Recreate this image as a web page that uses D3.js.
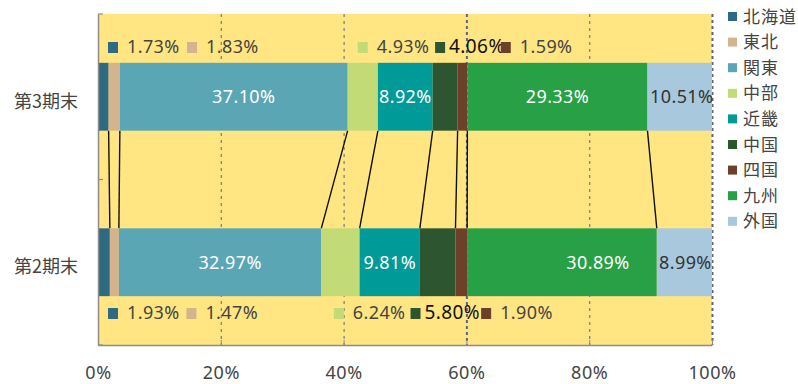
<!DOCTYPE html>
<html>
<head>
<meta charset="utf-8">
<script src="https://cdn.jsdelivr.net/npm/d3@7"></script>
<style>
  html, body { margin: 0; padding: 0; background: #ffffff; }
  svg { display: block; }
</style>
</head>
<body>
<svg id="chart" width="798" height="384"></svg>
<script>
// 地域別構成比（期末）
const periods = ["第3期末", "第2期末"];
const regions = ["北海道", "東北", "関東", "中部", "近畿", "中国", "四国", "九州", "外国"];
const regionColors = ["#2e6a82", "#d4b48e", "#5ba6b4", "#c3db77", "#009a98", "#2d5630", "#6d4129", "#28a045", "#a8c8dd"];
const values3 = [1.73, 1.83, 37.10, 4.93, 8.92, 4.06, 1.59, 29.33, 10.51];
const values2 = [1.93, 1.47, 32.97, 6.24, 9.81, 5.80, 1.90, 30.89, 8.99];
const xTicks = [0, 20, 40, 60, 80, 100];

// 小さい区分は棒の外側に凡例マーク付きで表示
const calloutRegions = ["北海道", "東北", "中部", "中国", "四国"];
// 外側ラベルの位置（％軸上の位置）
const calloutAt = {
  "第3期末": [1.63, 14.5, 42.3, 54.9, 65.6],
  "第2期末": [1.63, 14.4, 38.4, 50.9, 62.4]
};
// 棒の内側ラベルの横ずれ（px）
const insideShift = {
  "第3期末": { "関東": 10, "近畿": 0, "九州": 0, "外国": 2 },
  "第2期末": { "関東": 10, "近畿": 0, "九州": 36, "外国": 1 }
};

const valuesByPeriod = { "第3期末": values3, "第2期末": values2 };

const svg = d3.select("#chart");
const numFont = "'Noto Sans', Roboto, sans-serif";
const cjkFont = "'Noto Sans CJK JP', 'Noto Sans', sans-serif";

const x = d3.scaleLinear().domain([0, 100]).range([98, 712]);
const y = d3.scaleBand().domain(periods).range([14, 345]).paddingInner(0.59).paddingOuter(0.295);
const color = d3.scaleOrdinal().domain(regions).range(regionColors);

// 積み上げ位置
const stacks = {};
periods.forEach(p => {
  let c = 0;
  stacks[p] = valuesByPeriod[p].map((v, i) => {
    const s = { period: p, region: regions[i], value: v, x0: c, x1: c + v };
    c += v;
    return s;
  });
});

// プロット領域の背景
svg.append("rect")
  .attr("x", x(0)).attr("y", 14)
  .attr("width", x(100) - x(0)).attr("height", 345 - 14)
  .attr("fill", "#ffe682");

// 目盛線
svg.append("g").selectAll("line")
  .data(xTicks.filter(t => t > 0))
  .join("line")
  .attr("x1", d => x(d) + 0.5).attr("x2", d => x(d) + 0.5)
  .attr("y1", 14).attr("y2", 345)
  .attr("stroke", d => (d === 60 || d === 100) ? "#5f6677" : "#7a7a80")
  .attr("stroke-width", d => (d === 60 || d === 100) ? 2 : 1.2)
  .attr("stroke-dasharray", d => (d === 60 || d === 100) ? "3,3" : "3,4");

// 区分線（期間をつなぐ線）
const linkData = stacks["第3期末"].slice(0, -1).map((s, i) => ({
  a: s.x1, b: stacks["第2期末"][i].x1
}));
svg.append("g").selectAll("line")
  .data(linkData)
  .join("line")
  .attr("x1", d => x(d.a)).attr("y1", y("第3期末") + y.bandwidth())
  .attr("x2", d => x(d.b)).attr("y2", y("第2期末"))
  .attr("stroke", "#111")
  .attr("stroke-width", 1.4);

// 積み上げ棒
periods.forEach(p => {
  svg.append("g").selectAll("rect")
    .data(stacks[p])
    .join("rect")
    .attr("x", d => x(d.x0))
    .attr("y", y(p))
    .attr("width", d => x(d.x1) - x(d.x0))
    .attr("height", y.bandwidth())
    .attr("fill", d => color(d.region));
});

// 内側ラベル
periods.forEach(p => {
  const inside = stacks[p].filter(d => !calloutRegions.includes(d.region));
  svg.append("g").selectAll("text")
    .data(inside)
    .join("text")
    .attr("x", d => x((d.x0 + d.x1) / 2) + (insideShift[p][d.region] || 0))
    .attr("y", y(p) + y.bandwidth() / 2 + 6.5)
    .attr("text-anchor", "middle")
    .attr("font-family", numFont)
    .attr("font-size", 18)
    .attr("letter-spacing", 0.4)
    .attr("fill", d => d.region === "外国" ? "#333" : "#ffffff")
    .text(d => d.value.toFixed(2) + "%");
});

// 外側ラベル（凡例マーク付き）
periods.forEach((p, pi) => {
  const items = stacks[p].filter(d => calloutRegions.includes(d.region))
    .map((d, i) => ({ ...d, at: calloutAt[p][i] }));
  const baseY = pi === 0 ? 53 : 319;
  const g = svg.append("g").selectAll("g")
    .data(items)
    .join("g")
    .attr("transform", d => `translate(${x(d.at)},${baseY})`);
  g.append("rect")
    .attr("x", 0).attr("y", -11)
    .attr("width", 10).attr("height", 11)
    .attr("fill", d => color(d.region));
  g.append("text")
    .attr("x", d => d.region === "中国" ? 14 : 19)
    .attr("y", 0)
    .attr("font-family", numFont)
    .attr("font-size", d => d.region === "中国" ? 19 : 18)
    .attr("letter-spacing", 0.4)
    .attr("fill", d => d.region === "中国" ? "#111" : "#444")
    .text(d => d.value.toFixed(2) + "%");
});

// 横軸
const xAxis = svg.append("g")
  .attr("transform", "translate(0,345)")
  .call(d3.axisBottom(x).tickValues(xTicks).tickFormat(d => d + "%").tickSizeInner(-5).tickSizeOuter(0).tickPadding(21));
xAxis.select(".domain").attr("stroke", "#8c8c8c").attr("stroke-width", 1.5);
xAxis.selectAll(".tick line").attr("stroke", "#8c8c8c");
xAxis.selectAll(".tick text")
  .attr("font-family", numFont).attr("font-size", 18).attr("letter-spacing", 0.6)
  .attr("fill", "#444");

// 縦軸
const yAxis = svg.append("g")
  .attr("transform", `translate(${x(0)},0)`)
  .call(d3.axisLeft(y).tickSize(0).tickPadding(20));
yAxis.select(".domain").attr("stroke", "#8c8c8c").attr("stroke-width", 1.5);
yAxis.selectAll(".tick text")
  .attr("font-family", cjkFont).attr("font-size", 18)
  .attr("fill", "#444").attr("dy", "0.62em");
// 区分境界の内向き目盛
const bounds = [14, (y("第3期末") + y.bandwidth() + y("第2期末")) / 2, 345];
svg.append("g").selectAll("line")
  .data(bounds)
  .join("line")
  .attr("x1", x(0)).attr("x2", x(0) + 5)
  .attr("y1", d => d).attr("y2", d => d)
  .attr("stroke", "#8c8c8c").attr("stroke-width", 1.2);

// 凡例
const legend = svg.append("g").selectAll("g")
  .data(regions)
  .join("g")
  .attr("transform", (d, i) => `translate(728,${16.5 + i * 25.6})`);
legend.append("rect")
  .attr("x", 0).attr("y", -4.5)
  .attr("width", 9).attr("height", 9)
  .attr("fill", d => color(d));
legend.append("text")
  .attr("x", 15).attr("y", 6)
  .attr("font-family", cjkFont)
  .attr("font-size", 17)
  .attr("letter-spacing", 1)
  .attr("fill", "#444")
  .text(d => d);
</script>
</body>
</html>
